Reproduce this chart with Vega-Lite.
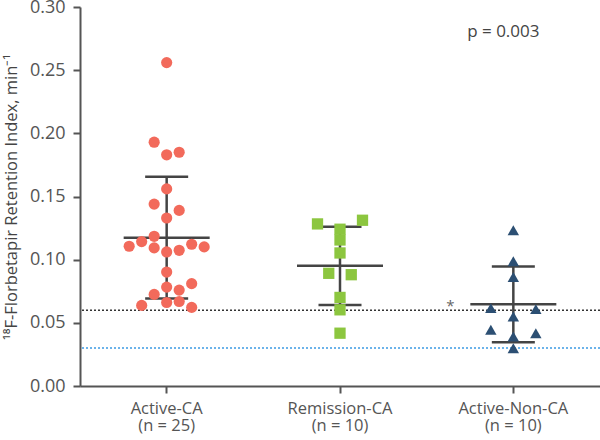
{
  "$schema": "https://vega.github.io/schema/vega-lite/v6.json",
  "width": 520,
  "height": 379,
  "autosize": "none",
  "padding": {"left": 80, "top": 7, "right": 0, "bottom": 54},
  "background": "white",
  "config": {
    "view": {"stroke": null},
    "font": "Open Sans",
    "axis": {"grid": false, "domainColor": "#555", "domainWidth": 2, "tickColor": "#555", "tickWidth": 2, "tickSize": 7, "labelColor": "#555", "titleColor": "#444", "labelFont": "Open Sans", "titleFont": "Open Sans", "titleFontWeight": "normal"}
  },
  "datasets": {
    "points": [
      {"group": "Active-CA", "value": 0.256, "jitter": 0},
      {"group": "Active-CA", "value": 0.193, "jitter": -1},
      {"group": "Active-CA", "value": 0.183, "jitter": 0},
      {"group": "Active-CA", "value": 0.185, "jitter": 1},
      {"group": "Active-CA", "value": 0.156, "jitter": 0},
      {"group": "Active-CA", "value": 0.144, "jitter": -1},
      {"group": "Active-CA", "value": 0.139, "jitter": 1},
      {"group": "Active-CA", "value": 0.133, "jitter": 0},
      {"group": "Active-CA", "value": 0.1185, "jitter": -1},
      {"group": "Active-CA", "value": 0.1143, "jitter": -2},
      {"group": "Active-CA", "value": 0.1106, "jitter": -3},
      {"group": "Active-CA", "value": 0.1093, "jitter": -1},
      {"group": "Active-CA", "value": 0.1061, "jitter": 0},
      {"group": "Active-CA", "value": 0.1074, "jitter": 1},
      {"group": "Active-CA", "value": 0.1122, "jitter": 2},
      {"group": "Active-CA", "value": 0.1101, "jitter": 3},
      {"group": "Active-CA", "value": 0.0902, "jitter": 0},
      {"group": "Active-CA", "value": 0.0783, "jitter": 0},
      {"group": "Active-CA", "value": 0.0759, "jitter": 1},
      {"group": "Active-CA", "value": 0.081, "jitter": 2},
      {"group": "Active-CA", "value": 0.0725, "jitter": -1},
      {"group": "Active-CA", "value": 0.0638, "jitter": -2},
      {"group": "Active-CA", "value": 0.0661, "jitter": 0},
      {"group": "Active-CA", "value": 0.0669, "jitter": 1},
      {"group": "Active-CA", "value": 0.0622, "jitter": 2},
      {"group": "Remission-CA", "value": 0.1283, "jitter": -1.8},
      {"group": "Remission-CA", "value": 0.1312, "jitter": 1.8},
      {"group": "Remission-CA", "value": 0.1241, "jitter": 0},
      {"group": "Remission-CA", "value": 0.1156, "jitter": 0},
      {"group": "Remission-CA", "value": 0.1053, "jitter": 0},
      {"group": "Remission-CA", "value": 0.0892, "jitter": -0.9},
      {"group": "Remission-CA", "value": 0.0881, "jitter": 0.9},
      {"group": "Remission-CA", "value": 0.0701, "jitter": 0},
      {"group": "Remission-CA", "value": 0.0603, "jitter": 0},
      {"group": "Remission-CA", "value": 0.0418, "jitter": 0},
      {"group": "Active-Non-CA", "value": 0.1233, "jitter": 0},
      {"group": "Active-Non-CA", "value": 0.0987, "jitter": 0},
      {"group": "Active-Non-CA", "value": 0.0863, "jitter": 0},
      {"group": "Active-Non-CA", "value": 0.0616, "jitter": -1.8},
      {"group": "Active-Non-CA", "value": 0.0609, "jitter": 1.8},
      {"group": "Active-Non-CA", "value": 0.055, "jitter": 0},
      {"group": "Active-Non-CA", "value": 0.0445, "jitter": -1.8},
      {"group": "Active-Non-CA", "value": 0.0418, "jitter": 1.8},
      {"group": "Active-Non-CA", "value": 0.0392, "jitter": 0},
      {"group": "Active-Non-CA", "value": 0.0299, "jitter": 0}
    ],
    "stats": [
      {"group": "Active-CA", "mean": 0.1173, "lo": 0.0692, "hi": 0.1656},
      {"group": "Remission-CA", "mean": 0.0951, "lo": 0.0642, "hi": 0.126},
      {"group": "Active-Non-CA", "mean": 0.0647, "lo": 0.0346, "hi": 0.0945}
    ]
  },
  "layer": [
    {
      "data": {"values": [{}]},
      "mark": {"type": "rule", "color": "#333", "strokeWidth": 1.5, "strokeDash": [2, 2]},
      "encoding": {"y": {"datum": 0.06, "type": "quantitative"}}
    },
    {
      "data": {"values": [{}]},
      "mark": {"type": "rule", "color": "#3D9BE3", "strokeWidth": 1.5, "strokeDash": [2, 2]},
      "encoding": {"y": {"datum": 0.03, "type": "quantitative"}}
    },
    {
      "data": {"name": "stats"},
      "mark": {"type": "rule", "color": "#444", "strokeWidth": 2.5},
      "encoding": {
        "x": {
          "field": "group",
          "type": "nominal",
          "sort": ["Active-CA", "Remission-CA", "Active-Non-CA"],
          "scale": {"domain": ["Active-CA", "Remission-CA", "Active-Non-CA"], "paddingInner": 0, "paddingOuter": 0},
          "axis": {"title": null, "labelAngle": 0, "labelFontSize": 16.5, "labelPadding": 7, "labelExpr": "datum.value == 'Active-CA' ? ['Active-CA', '(n = 25)'] : datum.value == 'Remission-CA' ? ['Remission-CA', '(n = 10)'] : ['Active-Non-CA', '(n = 10)']", "labelLineHeight": 17.5}
        },
        "y": {
          "field": "lo",
          "type": "quantitative",
          "scale": {"domain": [0, 0.3], "nice": false, "zero": true},
          "axis": {"title": "¹⁸F-Florbetapir Retention Index, min⁻¹", "values": [0, 0.05, 0.1, 0.15, 0.2, 0.25, 0.3], "format": ".2f", "labelFontSize": 18, "labelPadding": 8, "titleFontSize": 16.5, "titlePadding": 10}
        },
        "y2": {"field": "hi"}
      }
    },
    {
      "data": {"name": "stats"},
      "mark": {"type": "tick", "color": "#444", "thickness": 2.5, "size": 43, "opacity": 1},
      "encoding": {
        "x": {"field": "group", "type": "nominal"},
        "y": {"field": "hi", "type": "quantitative"}
      }
    },
    {
      "data": {"name": "stats"},
      "mark": {"type": "tick", "color": "#444", "thickness": 2.5, "size": 43, "opacity": 1},
      "encoding": {
        "x": {"field": "group", "type": "nominal"},
        "y": {"field": "lo", "type": "quantitative"}
      }
    },
    {
      "data": {"name": "stats"},
      "mark": {"type": "tick", "color": "#444", "thickness": 2.5, "size": 86, "opacity": 1},
      "encoding": {
        "x": {"field": "group", "type": "nominal"},
        "y": {"field": "mean", "type": "quantitative"}
      }
    },
    {
      "data": {"name": "points"},
      "mark": {"type": "point", "filled": true, "opacity": 1},
      "encoding": {
        "x": {"field": "group", "type": "nominal"},
        "xOffset": {"field": "jitter", "type": "quantitative", "scale": {"domain": [-8, 8], "range": [-13.33, 186.67]}},
        "y": {"field": "value", "type": "quantitative"},
        "shape": {"field": "group", "type": "nominal", "scale": {"domain": ["Active-CA", "Remission-CA", "Active-Non-CA"], "range": ["circle", "square", "triangle-up"]}, "legend": null},
        "color": {"field": "group", "type": "nominal", "scale": {"domain": ["Active-CA", "Remission-CA", "Active-Non-CA"], "range": ["#F26A5B", "#8CC63F", "#2C4F73"]}, "legend": null},
        "size": {"field": "group", "type": "ordinal", "scale": {"domain": ["Active-CA", "Remission-CA", "Active-Non-CA"], "range": [125, 130, 165]}, "legend": null}
      }
    },
    {
      "data": {"values": [{}]},
      "mark": {"type": "text", "fontSize": 17, "color": "#444", "align": "center", "baseline": "middle", "dx": -10},
      "encoding": {
        "x": {"datum": "Active-Non-CA", "type": "nominal"},
        "y": {"datum": 0.28, "type": "quantitative"},
        "text": {"value": "p = 0.003"}
      }
    },
    {
      "data": {"values": [{}]},
      "mark": {"type": "text", "fontSize": 15, "color": "#666", "align": "center", "baseline": "middle", "dx": -63},
      "encoding": {
        "x": {"datum": "Active-Non-CA", "type": "nominal"},
        "y": {"datum": 0.063, "type": "quantitative"},
        "text": {"value": "*"}
      }
    }
  ]
}
